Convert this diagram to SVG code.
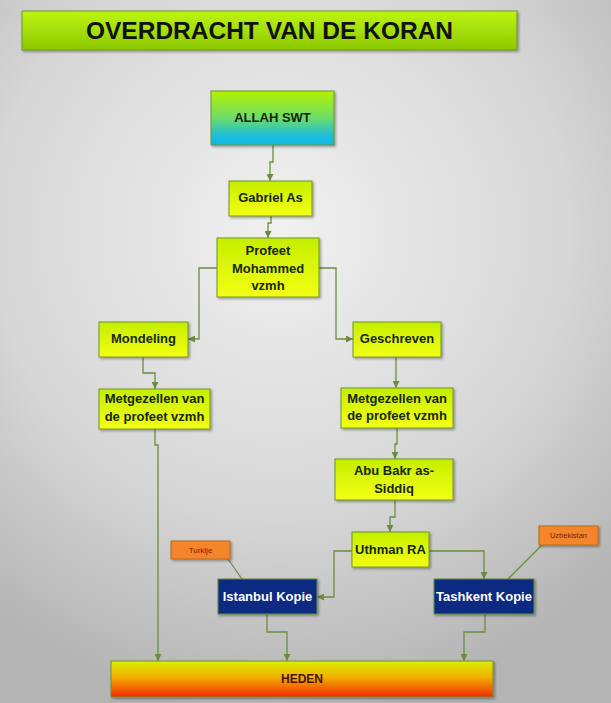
<svg xmlns="http://www.w3.org/2000/svg" width="611" height="703" viewBox="0 0 611 703">
<defs>
  <radialGradient id="bg" cx="280" cy="230" r="480" gradientUnits="userSpaceOnUse">
    <stop offset="0" stop-color="#f1f1f1"/>
    <stop offset="0.6" stop-color="#d6d6d6"/>
    <stop offset="1" stop-color="#b4b4b4"/>
  </radialGradient>
  <linearGradient id="gTitle" x1="0" y1="0" x2="0" y2="1">
    <stop offset="0" stop-color="#bdf512"/>
    <stop offset="1" stop-color="#8cc800"/>
  </linearGradient>
  <linearGradient id="gYel" x1="0" y1="0" x2="0" y2="1">
    <stop offset="0" stop-color="#c4ee00"/>
    <stop offset="1" stop-color="#f4ff14"/>
  </linearGradient>
  <linearGradient id="gAllah" x1="0" y1="0" x2="0" y2="1">
    <stop offset="0" stop-color="#b4f200"/>
    <stop offset="0.5" stop-color="#6edc6a"/>
    <stop offset="0.85" stop-color="#18bce0"/>
    <stop offset="1" stop-color="#14b8e6"/>
  </linearGradient>
  <linearGradient id="gHeden" x1="0" y1="0" x2="0" y2="1">
    <stop offset="0" stop-color="#dcee00"/>
    <stop offset="0.45" stop-color="#f2b000"/>
    <stop offset="1" stop-color="#f22800"/>
  </linearGradient>
  <filter id="sh" x="-10%" y="-10%" width="130%" height="140%">
    <feDropShadow dx="1.5" dy="1.5" stdDeviation="1" flood-color="#000" flood-opacity="0.35"/>
  </filter>
  <marker id="ar" markerUnits="userSpaceOnUse" markerWidth="7" markerHeight="7" refX="7" refY="3.5" orient="auto">
    <path d="M0,0 L7,3.5 L0,7 z" fill="#6e8b3d"/>
  </marker>
</defs>
<style>
  .box { stroke: #6f9428; stroke-width: 1; filter: url(#sh); }
  .yel { fill: url(#gYel); }
  .navy { fill: #0c2c82; stroke: #5f8a3a; }
  .org { fill: #f5852c; stroke: #b86a1c; }
  .t { font-family: "Liberation Sans", Arial, sans-serif; font-weight: bold; font-size: 13px; fill: #18260c; text-anchor: middle; }
  .w { fill: #ffffff; }
  .s { font-weight: normal; fill: #7a1c06; }
  .c { fill: none; stroke: #6e8b3d; stroke-width: 1.3; }
  .ca { marker-end: url(#ar); }
</style>
<rect x="0" y="0" width="611" height="703" fill="url(#bg)"/>

<g id="title">
  <rect class="box" x="22" y="11" width="495" height="39" fill="url(#gTitle)"/>
  <text class="t" x="269.5" y="39" style="font-size:24.5px;fill:#111">OVERDRACHT VAN DE KORAN</text>
</g>

<g id="connectors">
  <path class="c ca" d="M273,145 V162 H270 V181"/>
  <path class="c ca" d="M271,216 V223 H268 V238"/>
  <path class="c ca" d="M217,268 H199 V339 H188"/>
  <path class="c ca" d="M319,268 H336 V339 H353"/>
  <path class="c ca" d="M143,357 V373 H155 V389"/>
  <path class="c ca" d="M396,357 V388"/>
  <path class="c ca" d="M397,428 V444 H395 V459"/>
  <path class="c ca" d="M395,500 V517 H390 V532"/>
  <path class="c ca" d="M352,551 H334 V597 H317"/>
  <path class="c ca" d="M429,551 H484 V579"/>
  <path class="c ca" d="M155,429 V445 H158 V661"/>
  <path class="c ca" d="M267,614 V632 H287 V661"/>
  <path class="c ca" d="M485,614 V632 H464 V661"/>
  <path class="c" d="M228,559 L242,579"/>
  <path class="c" d="M542,545 L508,579"/>
</g>

<g id="allah">
  <rect class="box" x="211" y="91" width="123" height="54" fill="url(#gAllah)"/>
  <text class="t" x="272.5" y="122">ALLAH SWT</text>
</g>
<g id="gabriel">
  <rect class="box yel" x="229" y="181" width="83" height="35"/>
  <text class="t" x="270.5" y="202">Gabriel As</text>
</g>
<g id="profeet">
  <rect class="box yel" x="217" y="238" width="102" height="59"/>
  <text class="t" x="268" y="255">Profeet</text>
  <text class="t" x="268" y="272.5">Mohammed</text>
  <text class="t" x="268" y="290">vzmh</text>
</g>
<g id="mondeling">
  <rect class="box yel" x="99" y="322" width="89" height="35"/>
  <text class="t" x="143.5" y="343">Mondeling</text>
</g>
<g id="geschreven">
  <rect class="box yel" x="353" y="322" width="88" height="35"/>
  <text class="t" x="397" y="343">Geschreven</text>
</g>
<g id="metgezellen-left">
  <rect class="box yel" x="99" y="389" width="111" height="40"/>
  <text class="t" x="154.5" y="403">Metgezellen van</text>
  <text class="t" x="154.5" y="421">de profeet vzmh</text>
</g>
<g id="metgezellen-right">
  <rect class="box yel" x="341" y="388" width="112" height="40"/>
  <text class="t" x="397" y="403">Metgezellen van</text>
  <text class="t" x="397" y="420">de profeet vzmh</text>
</g>
<g id="abubakr">
  <rect class="box yel" x="335" y="459" width="118" height="41"/>
  <text class="t" x="394" y="475">Abu Bakr as-</text>
  <text class="t" x="394" y="493">Siddiq</text>
</g>
<g id="uthman">
  <rect class="box yel" x="352" y="532" width="77" height="35"/>
  <text class="t" x="390.5" y="554">Uthman RA</text>
</g>
<g id="turklje">
  <rect class="box org" x="171" y="541" width="59" height="18"/>
  <text class="t s" x="200.5" y="552.5" style="font-size:8px">Turklje</text>
</g>
<g id="uzbekistan">
  <rect class="box org" x="539" y="526" width="59" height="19"/>
  <text class="t s" x="568.5" y="538" style="font-size:7.5px">Uzbekistan</text>
</g>
<g id="istanbul">
  <rect class="box navy" x="218" y="579" width="99" height="35"/>
  <text class="t w" x="267.5" y="601">Istanbul Kopie</text>
</g>
<g id="tashkent">
  <rect class="box navy" x="434" y="579" width="100" height="35"/>
  <text class="t w" x="484" y="601">Tashkent Kopie</text>
</g>
<g id="heden">
  <rect class="box" x="111" y="661" width="382" height="36" fill="url(#gHeden)"/>
  <text class="t" x="302" y="683" style="font-size:12px;fill:#4a1200">HEDEN</text>
</g>
</svg>
